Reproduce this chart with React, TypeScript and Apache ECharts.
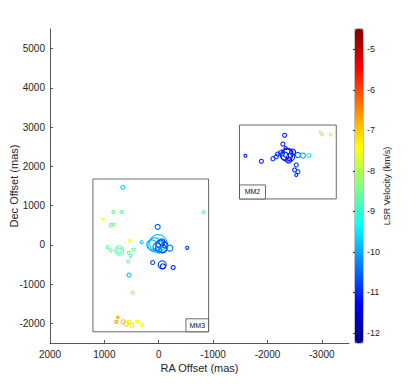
import React, { useEffect, useRef } from "react";
import * as echarts from "echarts";

// Maser spots: RA offset (mas), Dec offset (mas), LSR velocity (km/s), spot size
const raOffset = [
  662, 835, 681, 1024, 883, 828, -824, 20, 528, 314,
  130, 9, -53, -22, -77, 33, -114, -4, -59, -205,
  70, -523, 112, -64, -77, -266, 547, 938, 883, 725,
  725, 552, 468, 516, 560, 479, 754, 780, 657, 602,
  547, 492, 394, 314,
  -2316, -1595, -1888, -2101, -2163, -2284, -2334, -2376, -2316, -2426,
  -2389, -2261, -2462, -2352, -2560, -2652, -2762, -2530, -2499, -2560,
  -2530, -2187, -2976, -3007, -3160,
];
const decOffset = [
  1468, 840, 840, 654, 503, 517, 832, 458, 102, 69,
  0, 43, -43, 25, -102, -51, 0, -127, 76, -84,
  0, -76, -450, -509, -547, -578, -771, -59, -145, -145,
  -145, -204, -120, -280, -425, -1221, -1845, -1959, -1959, -2010,
  -1972, -2048, -1959, -2043,
  2791, 2272, 2130, 2196, 2247, 2570, 2468, 2333, 2265, 2239,
  2163, 2341, 2366, 2290, 2290, 2277, 2277, 2036, 1908, 1865,
  1781, 2315, 2868, 2807, 2807,
];
const velocity = [
  -9.6, -8.6, -8.6, -7.4, -8.5, -8.5, -8.6, -10.6, -7.5, -9.7,
  -9.8, -9.7, -10.4, -10.6, -10.8, -10.5, -10.7, -10.3, -10.9, -10.3,
  -10.0, -10.9, -10.7, -10.9, -11.0, -11.0, -9.8, -8.6, -8.6, -8.7,
  -8.8, -8.5, -8.6, -8.7, -8.6, -8.2, -6.7, -6.6, -7.0, -7.1,
  -7.3, -7.2, -7.3, -7.4,
  -11.0, -11.1, -11.0, -10.9, -10.8, -11.0, -11.2, -11.1, -11.2, -11.0,
  -11.2, -10.9, -11.3, -11.1, -10.6, -10.0, -9.3, -10.9, -11.0, -10.8,
  -11.0, -10.9, -7.8, -7.9, -7.7,
];
const spotSize = [
  2, 1.5, 1.5, 1.2, 1.5, 1.5, 1.5, 2.5, 1.2, 1.5,
  5, 8.5, 6, 4, 4, 4, 3, 3, 3, 3,
  7, 1.5, 2, 4, 2.5, 2, 2, 1.5, 1.5, 4.5,
  2.5, 1.5, 1.5, 1.5, 1.5, 1.5, 1.2, 1.5, 2, 2.5,
  2, 2, 1.5, 1.5,
  2, 1.5, 2, 2, 2, 2, 1.5, 5, 4, 4,
  3, 3, 3, 6, 2.5, 2.5, 2, 2, 2, 2,
  1.5, 2, 1.3, 1.3, 1.3,
];

// Region boxes (RA east, Dec north, RA west, Dec south)
const regionNames = ["MM3", "MM2"];
const regionBox = [
  [1211, 1679, -917, -2214],
  [-1486, 3053, -3266, 1170],
];
const labelBox = [
  [-501, -1883, -917, -2214],
  [-1486, 1527, -1963, 1170],
];

const xTicks = [-3000, -2000, -1000, 0, 1000, 2000];
const yTicks = [-2000, -1000, 0, 1000, 2000, 3000, 4000, 5000];
const cbTicks = [-12, -11, -10, -9, -8, -7, -6, -5];
const jet = [
  "#000080", "#0000ff", "#0080ff", "#00ffff", "#80ff80",
  "#ffff00", "#ff8000", "#ff0000", "#800000",
];

const FONT = "'Liberation Sans', Arial, Helvetica, sans-serif";
const TXT = "#262626";
const plain = (v: number) => String(v);

export default function App() {
  const ref = useRef<HTMLDivElement>(null);
  useEffect(() => {
    if (!ref.current) return;
    const chart = echarts.init(ref.current, null, { renderer: "svg" });
    const spots = raOffset.map((r, i) => [r, decOffset[i], velocity[i], spotSize[i]]);
    const boxes = regionBox.map((b, i) => ({ value: b, name: regionNames[i] }));
    const labels = labelBox.map((b, i) => ({ value: b, name: regionNames[i] }));
    chart.setOption({
      animation: false,
      backgroundColor: "#fff",
      textStyle: { fontFamily: FONT },
      grid: [
        { left: 50, top: 29, width: 299, height: 314, containLabel: false, outerBoundsMode: "none" },
        { left: 355, top: 29, width: 8, height: 314, containLabel: false, outerBoundsMode: "none", show: true, borderColor: "#333", borderWidth: 0.6, backgroundColor: "transparent" },
      ],
      xAxis: [
        {
          type: "value", gridIndex: 0, min: -3500, max: 2000, inverse: true,
          name: "RA Offset (mas)", nameLocation: "middle", nameGap: 19, nameMoveOverlap: false,
          nameTextStyle: { fontSize: 11, color: TXT, fontFamily: FONT },
          axisLine: { onZero: false, lineStyle: { color: "#555", width: 1 } },
          axisTick: { inside: true, length: 3, customValues: xTicks, lineStyle: { color: "#555" } },
          axisLabel: { customValues: xTicks, formatter: plain, fontSize: 10, color: TXT, margin: 6, fontFamily: FONT },
          splitLine: { show: false },
        },
        { type: "value", gridIndex: 1, min: 0, max: 1, show: false },
      ],
      yAxis: [
        {
          type: "value", gridIndex: 0, min: -2500, max: 5500,
          name: "Dec Offset (mas)", nameLocation: "middle", nameGap: 31, nameRotate: 90, nameMoveOverlap: false,
          nameTextStyle: { fontSize: 11, color: TXT, fontFamily: FONT },
          axisLine: { onZero: false, lineStyle: { color: "#555", width: 1 } },
          axisTick: { inside: true, length: 3, customValues: yTicks, lineStyle: { color: "#555" } },
          axisLabel: { customValues: yTicks, formatter: plain, fontSize: 10, color: TXT, margin: 5, fontFamily: FONT },
          splitLine: { show: false },
        },
        {
          type: "value", gridIndex: 1, min: -12.25, max: -4.5, position: "right",
          name: "LSR Velocity (km/s)", nameLocation: "middle", nameGap: 19, nameRotate: 90, nameMoveOverlap: false,
          nameTextStyle: { fontSize: 9, color: TXT, fontFamily: FONT },
          axisLine: { show: false },
          axisTick: { inside: true, length: 2, customValues: cbTicks, lineStyle: { color: "#333" } },
          axisLabel: { customValues: cbTicks, formatter: plain, fontSize: 9, color: TXT, margin: 4, fontFamily: FONT },
          splitLine: { show: false },
        },
      ],
      visualMap: {
        type: "continuous",
        min: -12.25, max: -4.5,
        dimension: 2,
        seriesIndex: 0,
        inRange: { color: jet },
        orient: "vertical",
        left: 355, top: 29,
        itemWidth: 8, itemHeight: 314,
        padding: 0,
        calculable: false,
        hoverLink: false,
        text: null,
        showLabel: false,
      },
      series: [
        {
          type: "custom",
          xAxisIndex: 0, yAxisIndex: 0,
          data: spots,
          encode: { x: 0, y: 1 },
          renderItem: (params: any, api: any) => {
            const p = api.coord([api.value(0), api.value(1)]);
            return {
              type: "circle",
              shape: { cx: p[0], cy: p[1], r: api.value(3) },
              style: { fill: "none", stroke: api.visual("color"), lineWidth: 1.1 },
            };
          },
        },
        {
          type: "custom",
          xAxisIndex: 0, yAxisIndex: 0,
          data: boxes,
          encode: { x: [0, 2], y: [1, 3] },
          renderItem: (params: any, api: any) => {
            const a = api.coord([api.value(0), api.value(1)]);
            const b = api.coord([api.value(2), api.value(3)]);
            return {
              type: "rect",
              shape: { x: Math.min(a[0], b[0]), y: Math.min(a[1], b[1]), width: Math.abs(b[0] - a[0]), height: Math.abs(b[1] - a[1]) },
              style: { fill: "none", stroke: "#444", lineWidth: 0.8 },
            };
          },
        },
        {
          type: "custom",
          xAxisIndex: 0, yAxisIndex: 0,
          data: labels,
          encode: { x: [0, 2], y: [1, 3] },
          renderItem: (params: any, api: any) => {
            const a = api.coord([api.value(0), api.value(1)]);
            const b = api.coord([api.value(2), api.value(3)]);
            const x = Math.min(a[0], b[0]);
            const y = Math.min(a[1], b[1]);
            const w = Math.abs(b[0] - a[0]);
            const h = Math.abs(b[1] - a[1]);
            return {
              type: "group",
              children: [
                { type: "rect", shape: { x, y, width: w, height: h }, style: { fill: "#fff", stroke: "#444", lineWidth: 0.8 } },
                {
                  type: "text",
                  style: {
                    text: regionNames[params.dataIndex], x: x + w / 2, y: y + h / 2,
                    align: "center", verticalAlign: "middle", fontSize: 7, fill: "#111", fontFamily: FONT,
                  },
                },
              ],
            };
          },
        },
      ],
    });
    return () => chart.dispose();
  }, []);
  return <div ref={ref} style={{ position: "fixed", left: 0, top: 0, width: 415, height: 387 }} />;
}
